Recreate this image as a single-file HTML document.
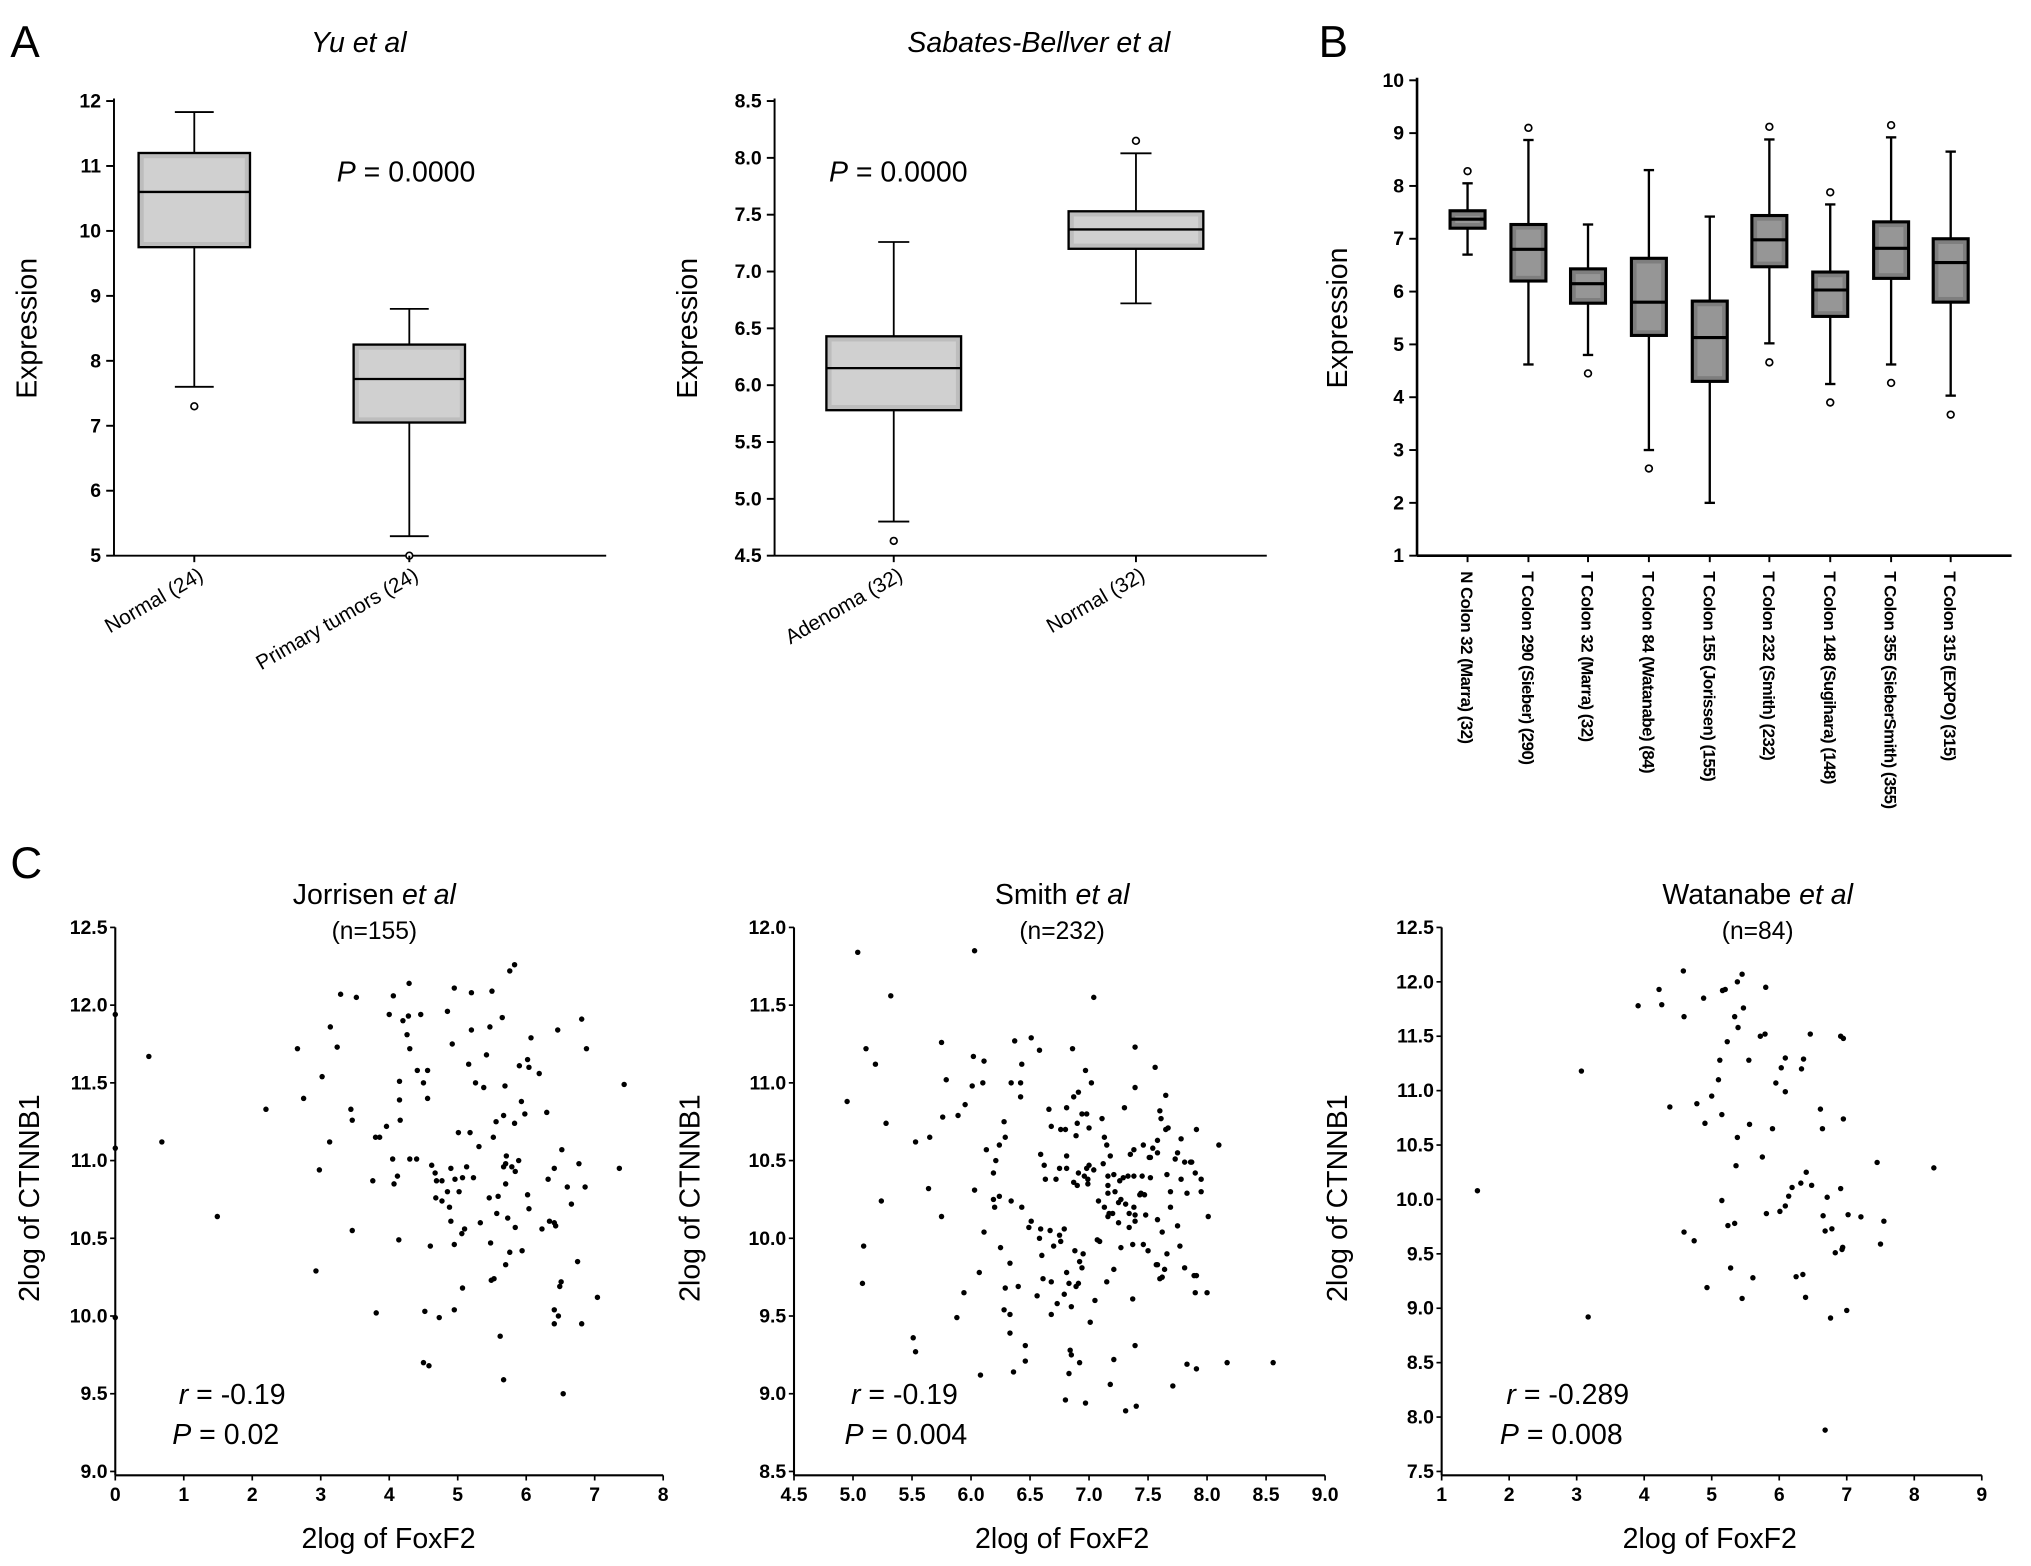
<!DOCTYPE html>
<html><head><meta charset="utf-8">
<style>
html,body{margin:0;padding:0;background:#fff;}
svg{display:block;}
text{font-family:"Liberation Sans",Arial,sans-serif;fill:#000;}
.tk{font-size:15px;font-weight:bold;}
.ttl{font-size:22px;}
</style></head>
<body>
<svg id="fig" xmlns="http://www.w3.org/2000/svg" width="2031" height="1566" viewBox="0 0 1568 1209" preserveAspectRatio="none">
<text x="8" y="44" style="font-size:34px">A</text>
<text x="1018" y="44" style="font-size:34px">B</text>
<text x="8" y="678" style="font-size:34px">C</text>
</svg>
<script>
// ---- Panel A1 (Yu et al) ----
const a1Cats = ["Normal (24)", "Primary tumors (24)"];
const a1Q1 = [9.75, 7.05];
const a1Med = [10.6, 7.72];
const a1Q3 = [11.2, 8.25];
const a1WLo = [7.6, 5.3];
const a1WHi = [11.83, 8.8];
const a1Out = [[7.3], [5.0]];
const a1Ticks = [5, 6, 7, 8, 9, 10, 11, 12];
// ---- Panel A2 (Sabates-Bellver et al) ----
const a2Cats = ["Adenoma (32)", "Normal (32)"];
const a2Q1 = [5.78, 7.2];
const a2Med = [6.15, 7.37];
const a2Q3 = [6.43, 7.53];
const a2WLo = [4.8, 6.72];
const a2WHi = [7.26, 8.04];
const a2Out = [[4.63], [8.15]];
const a2Ticks = ["4.5","5.0","5.5","6.0","6.5","7.0","7.5","8.0","8.5"];
// ---- Panel B ----
const bCats = ["N Colon 32 (Marra) (32)","T Colon 290 (Sieber) (290)","T Colon 32 (Marra) (32)","T Colon 84 (Watanabe) (84)","T Colon 155 (Jorissen) (155)","T Colon 232 (Smith) (232)","T Colon 148 (Sugihara) (148)","T Colon 355 (SieberSmith) (355)","T Colon 315 (EXPO) (315)"];
const bQ1 = [7.2, 6.2, 5.78, 5.17, 4.3, 6.47, 5.53, 6.25, 5.8];
const bMed = [7.37, 6.8, 6.15, 5.8, 5.13, 6.98, 6.03, 6.82, 6.55];
const bQ3 = [7.53, 7.27, 6.43, 6.63, 5.82, 7.44, 6.37, 7.32, 7.0];
const bWLo = [6.7, 4.62, 4.8, 3.0, 2.0, 5.02, 4.25, 4.62, 4.03];
const bWHi = [8.05, 8.87, 7.27, 8.3, 7.42, 8.88, 7.65, 8.92, 8.65];
const bOut = [[8.28],[9.1],[4.45],[2.65],[],[9.12,4.66],[7.88,3.9],[9.15,4.27],[3.67]];
const bTicks = [1,2,3,4,5,6,7,8,9,10];
// ---- Panel C1 (Jorrisen) ----
const c1X = [0,0,0,0.49,0.68,1.49,2.2,2.66,2.75,2.93,2.98,3.02,3.13,3.14,3.24,3.29,3.44,3.46,3.46,3.52,3.76,3.81,3.8,3.86,3.96,4.0,4.05,4.06,4.07,4.12,4.14,4.15,4.15,4.16,4.2,4.26,4.28,4.29,4.3,4.3,4.4,4.41,4.46,4.5,4.5,4.52,4.56,4.56,4.58,4.6,4.62,4.67,4.68,4.69,4.73,4.77,4.77,4.85,4.85,4.88,4.9,4.9,4.92,4.95,4.95,4.95,4.96,5.01,5.02,5.06,5.07,5.07,5.1,5.13,5.16,5.18,5.2,5.2,5.23,5.26,5.31,5.33,5.38,5.42,5.46,5.47,5.48,5.49,5.5,5.52,5.53,5.56,5.57,5.59,5.62,5.65,5.67,5.67,5.67,5.69,5.7,5.71,5.7,5.7,5.73,5.76,5.76,5.79,5.83,5.83,5.84,5.84,5.89,5.9,5.93,5.94,5.98,6.02,6.02,6.04,6.04,6.07,6.19,6.23,6.3,6.32,6.34,6.41,6.41,6.41,6.41,6.43,6.46,6.47,6.49,6.51,6.52,6.54,6.6,6.66,6.75,6.77,6.81,6.81,6.86,6.88,7.04,7.36,7.43];
const c1Y = [11.94,11.08,9.99,11.67,11.12,10.64,11.33,11.72,11.4,10.29,10.94,11.54,11.12,11.86,11.73,12.07,11.33,11.26,10.55,12.05,10.87,10.02,11.15,11.15,11.22,11.94,11.01,12.06,10.85,10.9,10.49,11.51,11.39,11.26,11.9,11.81,11.93,12.14,11.72,11.01,11.01,11.58,11.94,11.5,9.7,10.03,11.4,11.58,9.68,10.45,10.97,10.92,10.76,10.87,9.99,10.87,10.74,10.8,11.96,10.7,10.95,10.61,11.75,12.11,10.04,10.46,10.88,11.18,10.8,10.53,10.89,10.18,10.56,10.96,11.62,11.18,12.08,11.84,10.89,11.5,11.09,10.6,11.47,11.68,10.76,11.86,10.47,10.23,12.09,11.15,10.24,11.25,10.66,10.77,9.87,11.92,11.29,9.59,10.96,11.48,10.85,11.03,10.98,10.33,10.63,12.22,10.41,10.96,12.26,11.24,10.93,10.57,11.0,11.61,11.38,10.42,11.3,11.65,10.78,11.6,10.69,11.79,11.56,10.56,11.31,10.88,10.61,10.6,10.04,9.95,10.95,10.58,11.84,10.0,10.19,10.22,11.07,9.5,10.83,10.72,10.35,10.98,11.91,9.95,10.83,11.72,10.12,10.95,11.49];
// ---- Panel C2 (Smith) ----
const c2X = [5.04,6.03,5.32,7.04,4.95,5.11,5.19,5.28,5.09,5.08,5.24,5.51,5.53,5.53,5.65,5.64,5.75,5.76,5.75,5.79,5.89,5.94,5.88,5.95,6.01,6.02,6.03,6.07,6.08,6.1,6.11,6.11,6.13,6.19,6.19,6.2,6.21,6.24,6.24,6.25,6.28,6.29,6.29,6.28,6.33,6.33,6.33,6.34,6.34,6.36,6.37,6.4,6.42,6.42,6.43,6.43,6.46,6.46,6.49,6.51,6.51,6.56,6.58,6.58,6.59,6.59,6.6,6.62,6.61,6.63,6.66,6.67,6.68,6.68,6.68,6.7,6.72,6.73,6.75,6.75,6.76,6.76,6.8,6.79,6.79,6.8,6.81,6.81,6.81,6.81,6.83,6.83,6.84,6.85,6.85,6.86,6.87,6.87,6.88,6.89,6.89,6.9,6.9,6.91,6.91,6.91,6.92,6.92,6.94,6.95,6.94,6.96,6.97,6.97,6.98,6.98,6.99,6.99,7.0,7.0,7.01,7.02,7.04,7.05,7.08,7.07,7.09,7.11,7.12,7.13,7.13,7.15,7.15,7.16,7.16,7.16,7.16,7.17,7.18,7.18,7.2,7.21,7.21,7.21,7.22,7.25,7.25,7.26,7.27,7.27,7.29,7.3,7.31,7.31,7.33,7.34,7.34,7.35,7.37,7.37,7.38,7.38,7.38,7.39,7.39,7.39,7.39,7.39,7.4,7.43,7.44,7.45,7.46,7.47,7.46,7.48,7.5,7.51,7.52,7.52,7.54,7.56,7.57,7.58,7.58,7.58,7.58,7.6,7.6,7.61,7.62,7.62,7.64,7.65,7.65,7.66,7.67,7.66,7.69,7.69,7.71,7.73,7.75,7.75,7.77,7.78,7.78,7.81,7.81,7.83,7.83,7.86,7.87,7.89,7.9,7.9,7.91,7.91,7.91,7.95,7.95,8.0,8.01,8.1,8.17,8.56];
const c2Y = [11.84,11.85,11.56,11.55,10.88,11.22,11.12,10.74,9.95,9.71,10.24,9.36,9.27,10.62,10.65,10.32,11.26,10.78,10.14,11.02,10.79,9.65,9.49,10.86,10.98,11.17,10.31,9.78,9.12,11.0,10.04,11.14,10.57,10.25,10.42,10.2,10.5,10.27,10.6,9.94,10.75,9.68,10.65,9.54,9.84,9.51,9.39,10.24,11.0,9.14,11.27,9.69,11.0,10.91,10.2,11.12,9.31,9.21,10.07,10.11,11.29,9.63,10.0,11.21,10.06,10.54,9.89,10.47,9.74,10.38,10.83,10.05,10.72,9.72,9.51,9.95,10.38,9.58,10.45,10.02,9.98,10.7,10.7,10.06,9.64,8.96,10.84,10.53,10.45,9.78,9.13,9.71,9.28,9.25,9.56,11.22,10.91,10.36,9.92,10.66,9.69,10.34,10.74,9.71,10.94,10.42,9.2,9.85,9.81,9.9,10.8,10.4,8.94,11.08,10.8,10.45,10.38,10.35,10.71,10.47,9.46,11.0,10.44,9.6,10.24,9.99,9.98,10.77,10.48,10.2,10.65,9.72,10.6,10.14,10.29,10.34,10.4,10.16,9.06,10.53,10.16,9.22,10.41,9.8,10.3,10.23,10.1,10.37,9.94,10.25,10.39,10.84,8.89,10.22,10.4,10.07,10.16,10.54,9.96,9.61,10.2,10.4,10.57,9.31,11.23,10.97,10.11,10.15,8.92,10.28,10.29,10.4,9.96,10.28,10.6,10.15,9.92,10.52,10.39,10.52,10.58,11.1,9.83,10.12,9.83,10.55,10.63,9.74,10.82,10.77,9.75,10.04,9.8,10.92,10.7,10.41,10.71,9.9,10.3,10.2,9.05,10.51,10.08,10.55,9.95,10.38,10.64,10.49,9.81,9.19,10.29,10.49,10.49,9.76,10.42,9.65,9.76,10.7,9.16,10.38,10.3,9.65,10.14,10.6,9.2,9.2];
// ---- Panel C3 (Watanabe) ----
const c3X = [4.58,5.45,5.38,4.22,5.2,5.16,5.8,3.91,4.26,4.88,5.47,4.59,5.34,5.39,5.72,5.79,6.46,6.91,6.95,5.23,5.12,5.55,6.09,6.36,6.03,6.33,3.07,5.1,5.95,6.09,5.0,4.38,4.78,6.61,5.15,6.95,4.9,5.56,5.9,6.64,5.38,5.75,5.36,7.45,8.29,6.4,6.32,6.19,6.48,6.91,1.53,6.14,6.71,5.15,6.09,6.01,5.81,6.65,7.02,7.21,7.55,5.34,5.24,6.78,6.68,4.59,4.74,7.5,6.94,6.93,6.83,5.28,6.35,6.25,5.61,4.93,5.45,6.39,7.0,3.17,6.76,6.68];
const c3Y = [12.1,12.07,12.0,11.93,11.93,11.92,11.95,11.78,11.79,11.85,11.76,11.68,11.68,11.58,11.5,11.52,11.52,11.5,11.48,11.45,11.28,11.28,11.3,11.29,11.21,11.2,11.18,11.1,11.07,10.99,10.95,10.85,10.88,10.83,10.78,10.74,10.7,10.69,10.65,10.65,10.57,10.39,10.31,10.34,10.29,10.25,10.15,10.11,10.13,10.1,10.08,10.03,10.02,9.99,9.94,9.89,9.87,9.85,9.86,9.84,9.8,9.78,9.76,9.73,9.71,9.7,9.62,9.59,9.56,9.54,9.51,9.37,9.31,9.29,9.28,9.19,9.09,9.1,8.98,8.92,8.91,7.88];

const NS = "http://www.w3.org/2000/svg";
const svg = document.getElementById('fig');
function mk(tag, attrs, parent) {
  const e = document.createElementNS(NS, tag);
  for (const k in attrs) e.setAttribute(k, attrs[k]);
  (parent || svg).appendChild(e);
  return e;
}
function txt(x, y, s, cls, anchor, extra) {
  const t = mk('text', Object.assign({x: x, y: y, 'text-anchor': anchor || 'start'}, extra || {}));
  if (cls) t.setAttribute('class', cls);
  t.textContent = s;
  return t;
}

function boxPanel(o) {
  const g = mk('g', {});
  
  
  const ys = v => o.y0 + (o.v0 - v) * (o.y1 - o.y0) / (o.v0 - o.v1);
  const ax = mk('line', {x1: o.ax, y1: o.y0 - 2, x2: o.ax, y2: o.y1, stroke: '#000', 'stroke-width': o.axw}, g);
  
  
  const bx = mk('line', {x1: o.ax, y1: o.y1, x2: o.xEnd, y2: o.y1, stroke: '#000', 'stroke-width': o.axw}, g);
  
  
  o.ticks.forEach(t => {
    const v = parseFloat(t), y = ys(v);
    mk('line', {x1: o.ax - 6, y1: y, x2: o.ax, y2: y, stroke: '#000', 'stroke-width': 1.5}, g);
    const l = txt(o.ax - 10, y + 5, String(t), 'tk', 'end');
    g.appendChild(l);
    
    
  });
  o.cats.forEach((c, i) => {
    const cx = o.cx[i], w = o.bw;
    const bg = mk('g', {}, g);
    
    
    mk('line', {x1: cx, y1: ys(o.wHi[i]), x2: cx, y2: ys(o.wLo[i]), stroke: '#000', 'stroke-width': o.lw}, bg);
    mk('line', {x1: cx - o.cap, y1: ys(o.wHi[i]), x2: cx + o.cap, y2: ys(o.wHi[i]), stroke: '#000', 'stroke-width': o.lw}, bg);
    mk('line', {x1: cx - o.cap, y1: ys(o.wLo[i]), x2: cx + o.cap, y2: ys(o.wLo[i]), stroke: '#000', 'stroke-width': o.lw}, bg);
    const yt = ys(o.q3[i]), yb = ys(o.q1[i]);
    mk('rect', {x: cx - w / 2, y: yt, width: w, height: yb - yt, fill: o.fill, stroke: '#000', 'stroke-width': o.bsw}, bg);
    mk('rect', {x: cx - w / 2 + 4, y: yt + 4, width: w - 8, height: Math.max(0, yb - yt - 8), fill: o.fill2, stroke: 'none'}, bg);
    mk('line', {x1: cx - w / 2, y1: ys(o.med[i]), x2: cx + w / 2, y2: ys(o.med[i]), stroke: '#000', 'stroke-width': o.bsw}, bg);
    o.out[i].forEach(v => mk('circle', {cx: cx, cy: ys(v), r: 2.6, fill: '#fff', stroke: '#000', 'stroke-width': 1.3}, bg));
    mk('line', {x1: cx, y1: o.y1, x2: cx, y2: o.y1 + 5, stroke: '#000', 'stroke-width': 1.5}, g);
    let l;
    if (o.vertical) {
      l = txt(0, 0, c, null, 'start', {transform: 'translate(' + (cx - 5) + ',' + (o.y1 + 12) + ') rotate(90)', style: 'font-size:13px;font-weight:bold;letter-spacing:-0.4px'});
    } else {
      l = txt(0, 0, c, null, 'end', {transform: 'translate(' + (cx + 8) + ',' + (o.y1 + 18) + ') rotate(-30)', style: 'font-size:16px'});
    }
    g.appendChild(l);
    
    
  });
  const yt = txt(0, 0, 'Expression', 'ttl', 'middle', {transform: 'translate(' + o.ytx + ',' + ((o.y0 + o.y1) / 2) + ') rotate(-90)'});
  g.appendChild(yt);
  
  
}

boxPanel({name: 'yu-boxplot', ax: 88, y0: 78, y1: 429, v0: 12, v1: 5, xEnd: 468, ticks: a1Ticks, cats: a1Cats, cx: [150, 316], bw: 86, cap: 15,
  q1: a1Q1, med: a1Med, q3: a1Q3, wLo: a1WLo, wHi: a1WHi, out: a1Out, fill: '#bdbdbd', fill2: '#d0d0d0', lw: 1.4, bsw: 1.8, axw: 1.5, ytx: 28});
boxPanel({name: 'sabates-boxplot', ax: 598, y0: 78, y1: 429, v0: 8.5, v1: 4.5, xEnd: 978, ticks: a2Ticks, cats: a2Cats, cx: [690, 877], bw: 104, cap: 12,
  q1: a2Q1, med: a2Med, q3: a2Q3, wLo: a2WLo, wHi: a2WHi, out: a2Out, fill: '#bdbdbd', fill2: '#d0d0d0', lw: 1.4, bsw: 1.8, axw: 1.5, ytx: 538});
boxPanel({name: 'panel-b-boxplot', ax: 1094, y0: 62, y1: 429, v0: 10, v1: 1, xEnd: 1553, ticks: bTicks, cats: bCats,
  cx: [1133, 1180, 1226, 1273, 1320, 1366, 1413, 1460, 1506], bw: 27, cap: 4,
  q1: bQ1, med: bMed, q3: bQ3, wLo: bWLo, wHi: bWHi, out: bOut, vertical: true, fill: '#7e7e7e', fill2: '#969696', lw: 1.8, bsw: 2.4, axw: 2, ytx: 1040});

let t;
t = txt(277, 40, 'Yu et al', 'ttl', 'middle', {'font-style': 'italic'});  
t = txt(802, 40, 'Sabates-Bellver et al', 'ttl', 'middle', {'font-style': 'italic'});  
t = txt(260, 140, '', 'ttl'); t.innerHTML = '<tspan font-style="italic">P</tspan> = 0.0000';  
t = txt(640, 140, '', 'ttl'); t.innerHTML = '<tspan font-style="italic">P</tspan> = 0.0000';  

function scatter(o) {
  const g = mk('g', {});
  
  
  const xs = v => o.x0 + (v - o.xv0) * (o.x1 - o.x0) / (o.xv1 - o.xv0);
  const ys = v => o.y0 + (o.yv0 - v) * (o.y1 - o.y0) / (o.yv0 - o.yv1);
  const yl = mk('line', {x1: o.x0, y1: o.y0, x2: o.x0, y2: o.y1 + 3, stroke: '#000', 'stroke-width': 1.6}, g);
   
  const xl = mk('line', {x1: o.x0, y1: o.y1 + 3, x2: o.x1, y2: o.y1 + 3, stroke: '#000', 'stroke-width': 1.6}, g);
   
  o.yt.forEach(s => {
    const y = ys(parseFloat(s));
    mk('line', {x1: o.x0 - 4, y1: y, x2: o.x0, y2: y, stroke: '#000', 'stroke-width': 1.3}, g);
    const l = txt(o.x0 - 6, y + 5, s, 'tk', 'end'); g.appendChild(l);
     
  });
  o.xt.forEach(s => {
    const x = xs(parseFloat(s));
    mk('line', {x1: x, y1: o.y1 + 3, x2: x, y2: o.y1 + 7, stroke: '#000', 'stroke-width': 1.3}, g);
    const l = txt(x, o.y1 + 23, s, 'tk', 'middle'); g.appendChild(l);
     
  });
  o.X.forEach((v, i) => {
    const c = mk('circle', {cx: xs(v), cy: ys(o.Y[i]), r: 2.1, fill: '#000'}, g);
     
  });
  let l;
  l = txt(o.tc, 698, '', 'ttl', 'middle'); l.innerHTML = o.title + ' <tspan font-style="italic">et al</tspan>'; g.appendChild(l);
   
  l = txt(o.tc, 725, o.n, null, 'middle', {style: 'font-size:19px'}); g.appendChild(l);
   
  l = txt(o.rx, 1084, '', 'ttl'); l.innerHTML = '<tspan font-style="italic">r</tspan> = ' + o.r; g.appendChild(l);
   
  l = txt(o.rx - 5, 1115, '', 'ttl'); l.innerHTML = '<tspan font-style="italic">P</tspan> = ' + o.p; g.appendChild(l);
   
  l = txt(o.xtc, 1195, '2log of FoxF2', 'ttl', 'middle'); g.appendChild(l);
   
  l = txt(0, 0, '2log of CTNNB1', 'ttl', 'middle', {transform: 'translate(' + o.ytx + ',925) rotate(-90)'}); g.appendChild(l);
   
}
scatter({name: 'jorrisen-scatter', x0: 89, x1: 512, xv0: 0, xv1: 8, y0: 716, y1: 1136, yv0: 12.5, yv1: 9.0,
  yt: ['12.5','12.0','11.5','11.0','10.5','10.0','9.5','9.0'], xt: ['0','1','2','3','4','5','6','7','8'],
  X: c1X, Y: c1Y, tc: 289, title: 'Jorrisen', n: '(n=155)', rx: 138, r: '-0.19', p: '0.02', xtc: 300, ytx: 30});
scatter({name: 'smith-scatter', x0: 613, x1: 1023, xv0: 4.5, xv1: 9.0, y0: 716, y1: 1136, yv0: 12.0, yv1: 8.5,
  yt: ['12.0','11.5','11.0','10.5','10.0','9.5','9.0','8.5'], xt: ['4.5','5.0','5.5','6.0','6.5','7.0','7.5','8.0','8.5','9.0'],
  X: c2X, Y: c2Y, tc: 820, title: 'Smith', n: '(n=232)', rx: 657, r: '-0.19', p: '0.004', xtc: 820, ytx: 540});
scatter({name: 'watanabe-scatter', x0: 1113, x1: 1530, xv0: 1, xv1: 9, y0: 716, y1: 1136, yv0: 12.5, yv1: 7.5,
  yt: ['12.5','12.0','11.5','11.0','10.5','10.0','9.5','9.0','8.5','8.0','7.5'], xt: ['1','2','3','4','5','6','7','8','9'],
  X: c3X, Y: c3Y, tc: 1357, title: 'Watanabe', n: '(n=84)', rx: 1163, r: '-0.289', p: '0.008', xtc: 1320, ytx: 1040});
</script>
</body></html>
